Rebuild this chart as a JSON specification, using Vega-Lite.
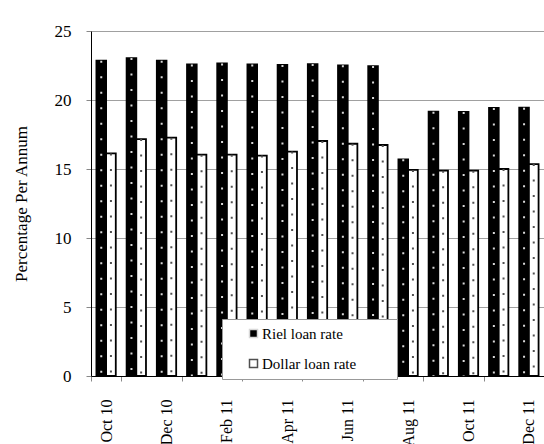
{
  "$schema": "https://vega.github.io/schema/vega-lite/v6.json",
  "width": 453,
  "height": 345,
  "autosize": {"type": "none"},
  "padding": {"left": 91, "top": 31, "right": 0, "bottom": 68},
  "background": "white",
  "config": {
    "view": {"stroke": null},
    "font": "Liberation Serif",
    "axis": {"labelFont": "Liberation Serif", "titleFont": "Liberation Serif"},
    "legend": {"labelFont": "Liberation Serif", "titleFont": "Liberation Serif"}
  },
  "data": {
    "values": [
      {"month": "Oct 10", "series": "Riel loan rate", "value": 22.85},
      {"month": "Nov 10", "series": "Riel loan rate", "value": 23.04},
      {"month": "Dec 10", "series": "Riel loan rate", "value": 22.85},
      {"month": "Jan 11", "series": "Riel loan rate", "value": 22.58},
      {"month": "Feb 11", "series": "Riel loan rate", "value": 22.65},
      {"month": "Mar 11", "series": "Riel loan rate", "value": 22.58},
      {"month": "Apr 11", "series": "Riel loan rate", "value": 22.54},
      {"month": "May 11", "series": "Riel loan rate", "value": 22.6},
      {"month": "Jun 11", "series": "Riel loan rate", "value": 22.51},
      {"month": "Jul 11", "series": "Riel loan rate", "value": 22.46},
      {"month": "Aug 11", "series": "Riel loan rate", "value": 15.7},
      {"month": "Sep 11", "series": "Riel loan rate", "value": 19.15},
      {"month": "Oct 11", "series": "Riel loan rate", "value": 19.13},
      {"month": "Nov 11", "series": "Riel loan rate", "value": 19.42},
      {"month": "Dec 11", "series": "Riel loan rate", "value": 19.44},
      {"month": "Oct 10", "series": "Dollar loan rate", "value": 16.13},
      {"month": "Nov 10", "series": "Dollar loan rate", "value": 17.17},
      {"month": "Dec 10", "series": "Dollar loan rate", "value": 17.27},
      {"month": "Jan 11", "series": "Dollar loan rate", "value": 16.04},
      {"month": "Feb 11", "series": "Dollar loan rate", "value": 16.04},
      {"month": "Mar 11", "series": "Dollar loan rate", "value": 15.97},
      {"month": "Apr 11", "series": "Dollar loan rate", "value": 16.26},
      {"month": "May 11", "series": "Dollar loan rate", "value": 17.03},
      {"month": "Jun 11", "series": "Dollar loan rate", "value": 16.83},
      {"month": "Jul 11", "series": "Dollar loan rate", "value": 16.74},
      {"month": "Aug 11", "series": "Dollar loan rate", "value": 14.93},
      {"month": "Sep 11", "series": "Dollar loan rate", "value": 14.88},
      {"month": "Oct 11", "series": "Dollar loan rate", "value": 14.88},
      {"month": "Nov 11", "series": "Dollar loan rate", "value": 15.0},
      {"month": "Dec 11", "series": "Dollar loan rate", "value": 15.36}
    ]
  },
  "encoding": {
    "x": {
      "field": "month",
      "type": "nominal",
      "scale": {
        "domain": ["Oct 10","Nov 10","Dec 10","Jan 11","Feb 11","Mar 11","Apr 11","May 11","Jun 11","Jul 11","Aug 11","Sep 11","Oct 11","Nov 11","Dec 11"],
        "paddingInner": 0,
        "paddingOuter": 0
      },
      "axis": {
        "title": null,
        "values": ["Oct 10","Dec 10","Feb 11","Apr 11","Jun 11","Aug 11","Oct 11","Dec 11"],
        "tickBand": "extent",
        "labelAngle": -90,
        "labelFont": "Liberation Serif",
        "labelFontSize": 16,
        "labelColor": "black",
        "labelPadding": 18,
        "tickSize": 5,
        "tickColor": "#888",
        "domainColor": "black",
        "domainWidth": 1,
        "grid": false
      }
    },
    "xOffset": {
      "field": "series",
      "type": "nominal",
      "scale": {
        "domain": ["Riel loan rate", "Dollar loan rate"],
        "paddingInner": 0,
        "paddingOuter": 0.56
      }
    },
    "y": {
      "field": "value",
      "type": "quantitative",
      "scale": {"domain": [0, 25], "nice": false},
      "axis": {
        "title": "Percentage Per Annum",
        "titleFont": "Liberation Serif",
        "titleFontSize": 17,
        "titleFontWeight": "normal",
        "titleColor": "black",
        "titlePadding": 24,
        "values": [0, 5, 10, 15, 20, 25],
        "labelFont": "Liberation Serif",
        "labelFontSize": 17,
        "labelColor": "black",
        "labelPadding": 15,
        "tickSize": 5,
        "tickColor": "#888",
        "gridColor": "#a0a0a0",
        "domainColor": "black"
      }
    }
  },
  "layer": [
    {
      "mark": {"type": "bar", "stroke": "black", "strokeWidth": 1.8},
      "encoding": {
        "fill": {
          "field": "series",
          "type": "nominal",
          "scale": {"domain": ["Riel loan rate", "Dollar loan rate"], "range": ["black", "white"]},
          "legend": {
            "title": null,
            "orient": "none",
            "legendX": 131,
            "legendY": 288,
            "fillColor": "white",
            "strokeColor": "#999",
            "padding": 7,
            "symbolType": "square",
            "symbolSize": 64,
            "symbolStrokeColor": "black",
            "symbolStrokeWidth": 1.5,
            "symbolOffset": 17,
            "labelOffset": 1,
            "labelFont": "Liberation Serif",
            "labelFontSize": 15,
            "labelColor": "black",
            "rowPadding": 14,
            "labelExpr": "datum.label + '\u2800\u2800\u2800'"
          }
        }
      }
    },
    {
      "mark": {"type": "rule", "strokeWidth": 2, "strokeDash": [2, 13.5]},
      "encoding": {
        "y2": {"datum": 0},
        "stroke": {
          "field": "series",
          "type": "nominal",
          "scale": {"domain": ["Riel loan rate", "Dollar loan rate"], "range": ["#d8d8d8", "#505050"]},
          "legend": null
        }
      }
    }
  ]
}
